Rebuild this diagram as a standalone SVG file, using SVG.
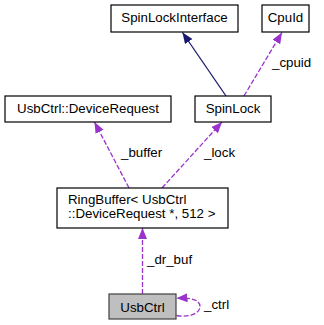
<svg xmlns="http://www.w3.org/2000/svg" width="324" height="325" viewBox="0 0 324 325">
  <style>
    .node rect { fill: #ffffff; stroke: #000000; stroke-width: 1.2; }
    .node.current rect { fill: #bfbfbf; stroke: #404040; }
    .node text, .label { font-family: "Liberation Sans", Arial, sans-serif; font-size: 13.3px; fill: #000000; }
    .node text { text-anchor: middle; }
    .node text.left { text-anchor: start; }
    .edge { fill: none; stroke-width: 1.3; }
    .inherit { stroke: #191970; marker-end: url(#arrowNavy); }
    .use { stroke: #9a32cd; stroke-dasharray: 5,2; marker-end: url(#arrowPurple); }
  </style>
  <defs>
    <marker id="arrowNavy" markerUnits="userSpaceOnUse" markerWidth="12" markerHeight="10" refX="11" refY="4.5" orient="auto">
      <path d="M0,0 L11,4.5 L0,9 z" fill="#191970"/>
    </marker>
    <marker id="arrowPurple" markerUnits="userSpaceOnUse" markerWidth="12" markerHeight="10" refX="11" refY="4.5" orient="auto">
      <path d="M0,0 L11,4.5 L0,9 z" fill="#9a32cd"/>
    </marker>
  </defs>
  <rect width="324" height="325" fill="#ffffff"/>

  <g id="connectors">
    <path class="edge inherit" d="M226,96 L182.5,32.5"/>
    <path class="edge use" d="M244,96 L282,32.5"/>
    <path class="edge use" d="M129,188 L94.5,122"/>
    <path class="edge use" d="M162,188 L222,122"/>
    <path class="edge use" d="M142.5,294 L142.5,228"/>
    <path class="edge use" d="M176.5,315.5 C190,318 200,313 200,306.5 C200,300 192,297.5 176.5,298.3"/>
    <text class="label" x="272" y="67">_cpuid</text>
    <text class="label" x="121" y="157">_buffer</text>
    <text class="label" x="204" y="157">_lock</text>
    <text class="label" x="147" y="264">_dr_buf</text>
    <text class="label" x="204" y="309">_ctrl</text>
  </g>

  <g id="SpinLockInterface" class="node">
    <rect x="111" y="5" width="127" height="27"/>
    <text x="174.5" y="22">SpinLockInterface</text>
  </g>
  <g id="CpuId" class="node">
    <rect x="262" y="5" width="47" height="27"/>
    <text x="285.5" y="22">CpuId</text>
  </g>
  <g id="DeviceRequest" class="node">
    <rect x="5" y="96" width="166" height="26"/>
    <text x="88" y="113">UsbCtrl::DeviceRequest</text>
  </g>
  <g id="SpinLock" class="node">
    <rect x="195" y="96" width="76" height="26"/>
    <text x="233" y="113">SpinLock</text>
  </g>
  <g id="RingBuffer" class="node">
    <rect x="57" y="188" width="171" height="40"/>
    <text class="left" x="68" y="203.5">RingBuffer&lt; UsbCtrl</text>
    <text class="left" x="68" y="218">::DeviceRequest *, 512 &gt;</text>
  </g>
  <g id="UsbCtrl" class="node current">
    <rect x="109" y="294" width="67" height="25"/>
    <text x="142.5" y="311.5">UsbCtrl</text>
  </g>
</svg>
